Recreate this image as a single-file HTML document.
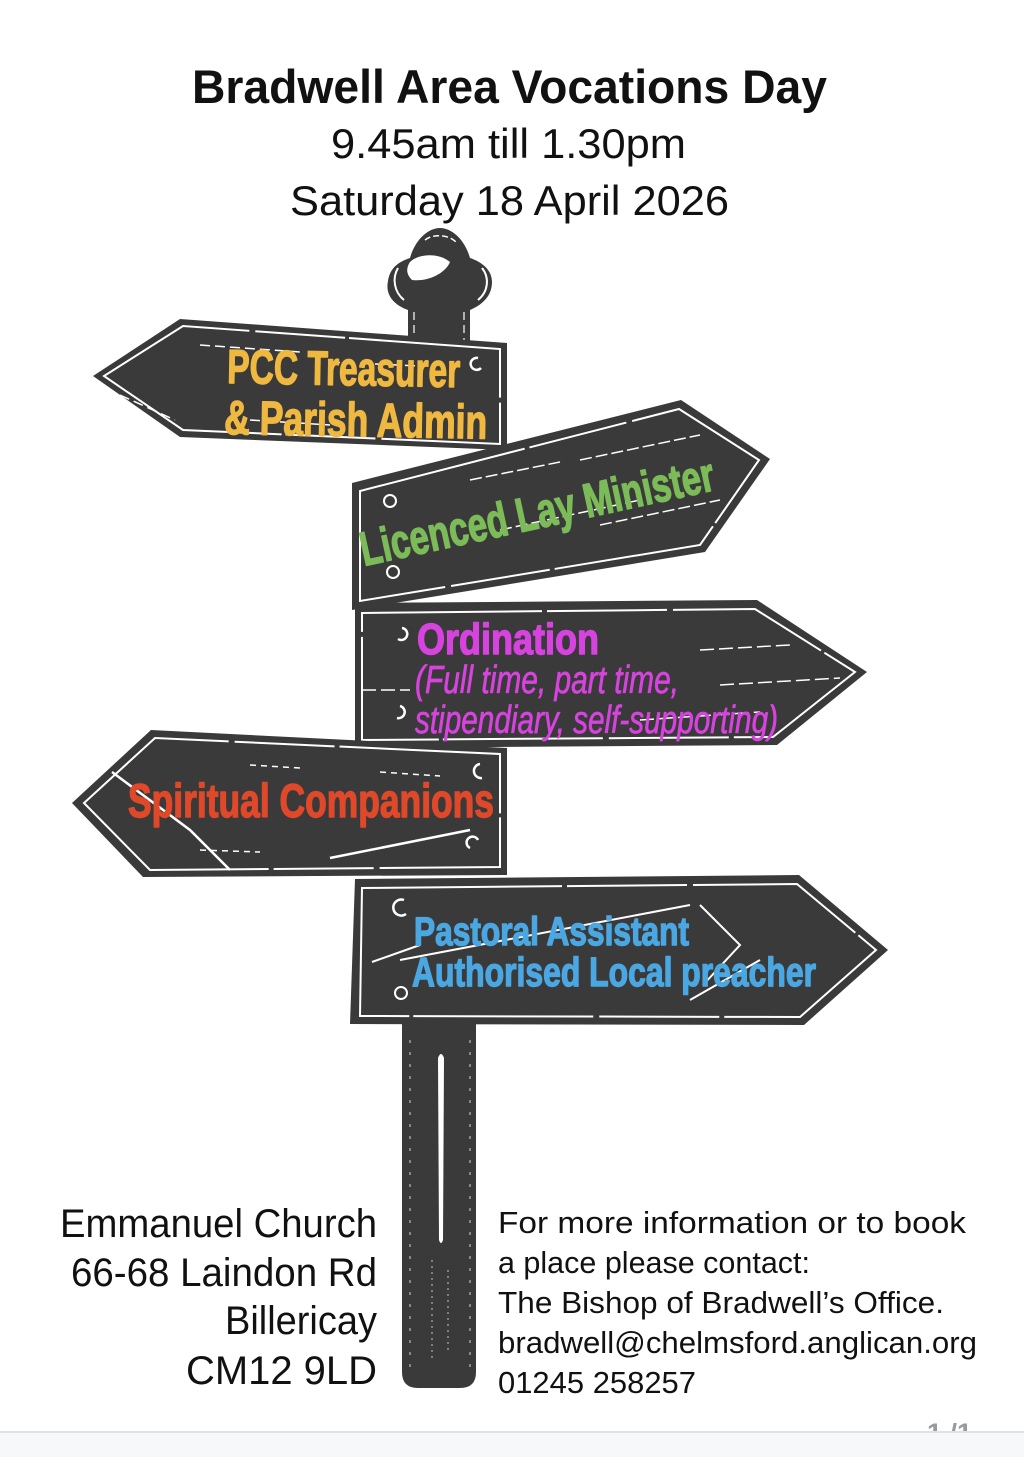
<!DOCTYPE html>
<html>
<head>
<meta charset="utf-8">
<style>
html,body{margin:0;padding:0;background:#fff;}
body{width:1024px;height:1457px;overflow:hidden;position:relative;}
svg{display:block;}
.t{font-family:"Liberation Sans",sans-serif;fill:#111;}
.s{font-family:"Liberation Sans",sans-serif;font-weight:bold;stroke-width:1.4;stroke-linejoin:round;}
</style>
</head>
<body>
<svg width="1024" height="1457" viewBox="0 0 1024 1457" xmlns="http://www.w3.org/2000/svg">
  <rect x="0" y="0" width="1024" height="1457" fill="#fff"/>

  <!-- Title -->
  <text class="t" x="192" y="103" font-size="47" font-weight="bold" textLength="635" lengthAdjust="spacingAndGlyphs">Bradwell Area Vocations Day</text>
  <text class="t" x="331" y="158" font-size="42" textLength="355" lengthAdjust="spacingAndGlyphs">9.45am till 1.30pm</text>
  <text class="t" x="290" y="215" font-size="42" textLength="439" lengthAdjust="spacingAndGlyphs">Saturday 18 April 2026</text>

  <!-- Post head -->
  <path d="M408,348 L408,310 C394,305 385,295 388,281 C390,268 398,262 410,258 C415,240 428,228 440,228 C452,228 465,240 470,258 C482,262 492,270 492,282 C492,296 482,305 470,310 L470,348 Z" fill="#3a3a3a"/>
  <path d="M410,262 C418,254 438,252 450,262 C446,272 430,282 412,280 C406,274 406,268 410,262 Z" fill="#fff"/>
  <path d="M398,268 C392,278 394,292 404,300" stroke="#fff" stroke-width="2" fill="none"/>
  <path d="M482,268 C490,278 488,292 478,300" stroke="#fff" stroke-width="2" fill="none"/>
  <path d="M425,240 C432,234 448,234 456,242" stroke="#fff" stroke-width="1.5" fill="none" stroke-dasharray="6 3"/>
  <path d="M414,312 L414,340 M464,312 L464,340" stroke="#fff" stroke-width="1.2" fill="none" stroke-dasharray="8 5"/>

  <!-- Post lower -->
  <path d="M402,1015 L476,1015 L476,1372 Q476,1388 460,1388 L418,1388 Q402,1388 402,1372 Z" fill="#3a3a3a"/>
  <path d="M438,1058 Q441,1050 444,1058 L443,1240 Q441,1246 439,1240 Z" fill="#fff"/>
  <path d="M410,1040 L410,1370 M470,1040 L470,1370" stroke="#fff" stroke-width="1" stroke-dasharray="3 9" fill="none" opacity="0.8"/>
  <path d="M432,1260 L432,1360 M448,1270 L448,1350" stroke="#fff" stroke-width="1" stroke-dasharray="2 4" fill="none" opacity="0.7"/>

  <!-- Sign 1 PCC -->
  <polygon points="93,376 180,319 507,343 507,450 180,437" fill="#3a3a3a"/>
  <polygon points="104,376 183,326 500,349 500,444 183,430" fill="none" stroke="#fff" stroke-width="2" stroke-dasharray="160 6 90 4 200 5"/>
  <path d="M120,395 L175,420 M200,345 L300,352 M250,420 L330,425 M330,362 L420,366" stroke="#fff" stroke-width="1.5" stroke-dasharray="10 5" fill="none"/>
  <path d="M478,358 a6,6 0 1,0 3,10" stroke="#fff" stroke-width="2.5" fill="none"/>

  <!-- Sign 2 Licenced -->
  <polygon points="352,483 681,400 770,459 705,552 352,610" fill="#3a3a3a"/>
  <polygon points="360,491 679,409 759,460 700,545 360,601" fill="none" stroke="#fff" stroke-width="2" stroke-dasharray="170 5 100 6 220 4"/>
  <path d="M470,480 L560,462 M500,530 L640,500 M580,460 L700,435 M600,525 L720,500" stroke="#fff" stroke-width="1.5" stroke-dasharray="12 4" fill="none"/>
  <circle cx="390" cy="501" r="6" fill="none" stroke="#fff" stroke-width="2"/>
  <circle cx="393" cy="572" r="6" fill="none" stroke="#fff" stroke-width="2"/>

  <!-- Sign 3 Ordination -->
  <polygon points="355,603 757,600 867,672 777,745 355,748" fill="#3a3a3a"/>
  <polygon points="362,613 755,609 855,672 773,737 362,740" fill="none" stroke="#fff" stroke-width="2" stroke-dasharray="180 5 120 6 160 4"/>
  <path d="M362,690 L410,690 M700,650 L790,645 M720,685 L840,678 M640,720 L760,712" stroke="#fff" stroke-width="1.5" stroke-dasharray="14 5" fill="none"/>
  <path d="M402,628 a6,6 0 1,1 -4,11" stroke="#fff" stroke-width="2.5" fill="none"/>
  <path d="M400,706 a6,6 0 1,1 -3,12" stroke="#fff" stroke-width="2.5" fill="none"/>

  <!-- Sign 4 Spiritual -->
  <polygon points="72,803 151,730 507,748 507,875 143,877" fill="#3a3a3a"/>
  <polygon points="84,803 155,738 500,754 500,867 150,870" fill="none" stroke="#fff" stroke-width="2" stroke-dasharray="170 6 100 5 220 4"/>
  <path d="M112,772 L190,830 L230,870 M330,858 L470,830" stroke="#fff" stroke-width="2.5" fill="none"/>
  <path d="M250,765 L300,768 M380,772 L440,776 M200,850 L260,852" stroke="#fff" stroke-width="1.5" stroke-dasharray="6 5" fill="none"/>
  <path d="M480,764 a7,7 0 1,0 2,14" stroke="#fff" stroke-width="2.5" fill="none"/>
  <path d="M478,840 a6,6 0 1,0 -8,8" stroke="#fff" stroke-width="2.5" fill="none"/>

  <!-- Sign 5 Pastoral -->
  <polygon points="355,879 799,875 888,950 804,1025 350,1024" fill="#3a3a3a"/>
  <polygon points="362,888 797,884 876,950 800,1017 360,1016" fill="none" stroke="#fff" stroke-width="2" stroke-dasharray="200 5 120 6 180 4"/>
  <path d="M372,962 L420,945 M400,960 L690,905 M690,1000 L760,960" stroke="#fff" stroke-width="2" fill="none"/>
  <path d="M700,905 L740,945 L703,985" stroke="#fff" stroke-width="2" fill="none"/>
  <path d="M404,900 a8,8 0 1,0 2,14" stroke="#fff" stroke-width="2.5" fill="none"/>
  <circle cx="401" cy="993" r="6" fill="none" stroke="#fff" stroke-width="2"/>

  <!-- Sign texts -->
  <text class="s" x="227" y="383" font-size="48" fill="#efb840" stroke="#efb840" textLength="233" lengthAdjust="spacingAndGlyphs" transform="rotate(1 227 383)">PCC Treasurer</text>
  <text class="s" x="224" y="434" font-size="48" fill="#efb840" stroke="#efb840" textLength="263" lengthAdjust="spacingAndGlyphs" transform="rotate(1 224 434)">&amp; Parish Admin</text>

  <text class="s" x="364" y="566" font-size="48" fill="#7bbb58" stroke="#7bbb58" textLength="361" lengthAdjust="spacingAndGlyphs" transform="rotate(-12.2 364 566)">Licenced Lay Minister</text>

  <text class="s" x="417" y="654" font-size="44" fill="#d743de" stroke="#d743de" textLength="182" lengthAdjust="spacingAndGlyphs">Ordination</text>
  <text x="415" y="693" font-size="39" font-style="italic" fill="#d743de" stroke="#d743de" stroke-width="0.7" font-family="Liberation Sans, sans-serif" textLength="264" lengthAdjust="spacingAndGlyphs">(Full time, part time,</text>
  <text x="415" y="733" font-size="39" font-style="italic" fill="#d743de" stroke="#d743de" stroke-width="0.7" font-family="Liberation Sans, sans-serif" textLength="363" lengthAdjust="spacingAndGlyphs">stipendiary, self-supporting)</text>

  <text class="s" x="128" y="817" font-size="47" fill="#e0482a" stroke="#e0482a" textLength="366" lengthAdjust="spacingAndGlyphs">Spiritual Companions</text>

  <text class="s" x="414" y="945" font-size="40" fill="#4aa7e2" stroke="#4aa7e2" textLength="275" lengthAdjust="spacingAndGlyphs">Pastoral Assistant</text>
  <text class="s" x="412" y="986" font-size="41" fill="#4aa7e2" stroke="#4aa7e2" textLength="404" lengthAdjust="spacingAndGlyphs">Authorised Local preacher</text>

  <!-- Address -->
  <text class="t" x="60" y="1237" font-size="40" textLength="317" lengthAdjust="spacingAndGlyphs">Emmanuel Church</text>
  <text class="t" x="71" y="1286" font-size="40" textLength="306" lengthAdjust="spacingAndGlyphs">66-68 Laindon Rd</text>
  <text class="t" x="225" y="1334" font-size="40" textLength="152" lengthAdjust="spacingAndGlyphs">Billericay</text>
  <text class="t" x="186" y="1384" font-size="40" textLength="191" lengthAdjust="spacingAndGlyphs">CM12 9LD</text>

  <!-- Contact -->
  <text class="t" x="498" y="1233" font-size="31" textLength="468" lengthAdjust="spacingAndGlyphs">For more information or to book</text>
  <text class="t" x="498" y="1273" font-size="31" textLength="312" lengthAdjust="spacingAndGlyphs">a place please contact:</text>
  <text class="t" x="498" y="1313" font-size="31" textLength="446" lengthAdjust="spacingAndGlyphs">The Bishop of Bradwell’s Office.</text>
  <text class="t" x="498" y="1353" font-size="31" textLength="479" lengthAdjust="spacingAndGlyphs">bradwell@chelmsford.anglican.org</text>
  <text class="t" x="498" y="1393" font-size="31" textLength="198" lengthAdjust="spacingAndGlyphs">01245 258257</text>

  <!-- Page indicator & bottom bar -->
  <text x="927" y="1441" font-size="25" font-weight="bold" fill="#9a9a9a" font-family="Liberation Sans, sans-serif" textLength="45" lengthAdjust="spacingAndGlyphs">1 /1</text>
  <rect x="0" y="1431" width="1024" height="26" fill="#f7f8fa"/>
  <rect x="0" y="1431" width="1024" height="2" fill="#e2e2e2"/>
</svg>
</body>
</html>
